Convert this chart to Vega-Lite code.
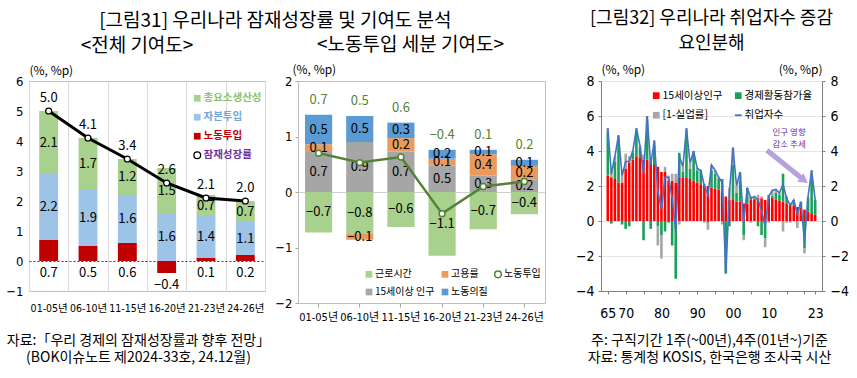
{
  "$schema": "https://vega.github.io/schema/vega-lite/v6.json",
  "background": "white",
  "padding": {"left": 5, "top": 10, "right": 5, "bottom": 5},
  "config": {
    "font": "Noto Sans CJK KR",
    "view": {"stroke": null},
    "axis": {"labelFont": "Liberation Sans Narrow, DejaVu Sans Condensed, Noto Sans CJK KR", "labelColor": "#000000", "titleFont": "Noto Sans CJK KR", "titleColor": "#000000", "titleFontWeight": "normal", "labelOverlap": false},
    "legend": {"labelFont": "Noto Sans CJK KR", "labelColor": "#000000"},
    "title": {"font": "Noto Sans CJK KR", "fontWeight": "normal", "color": "#000000", "fontSize": 19}
  },
  "datasets": {
    "p1": [
      {"period": "01-05년", "comp": "노동투입", "value": 0.7},
      {"period": "01-05년", "comp": "자본투입", "value": 2.2},
      {"period": "01-05년", "comp": "총요소생산성", "value": 2.1},
      {"period": "01-05년", "comp": "잠재성장률", "value": 5.0},
      {"period": "06-10년", "comp": "노동투입", "value": 0.5},
      {"period": "06-10년", "comp": "자본투입", "value": 1.9},
      {"period": "06-10년", "comp": "총요소생산성", "value": 1.7},
      {"period": "06-10년", "comp": "잠재성장률", "value": 4.1},
      {"period": "11-15년", "comp": "노동투입", "value": 0.6},
      {"period": "11-15년", "comp": "자본투입", "value": 1.6},
      {"period": "11-15년", "comp": "총요소생산성", "value": 1.2},
      {"period": "11-15년", "comp": "잠재성장률", "value": 3.4},
      {"period": "16-20년", "comp": "노동투입", "value": -0.4},
      {"period": "16-20년", "comp": "자본투입", "value": 1.6},
      {"period": "16-20년", "comp": "총요소생산성", "value": 1.5},
      {"period": "16-20년", "comp": "잠재성장률", "value": 2.6},
      {"period": "21-23년", "comp": "노동투입", "value": 0.1},
      {"period": "21-23년", "comp": "자본투입", "value": 1.4},
      {"period": "21-23년", "comp": "총요소생산성", "value": 0.7},
      {"period": "21-23년", "comp": "잠재성장률", "value": 2.1},
      {"period": "24-26년", "comp": "노동투입", "value": 0.2},
      {"period": "24-26년", "comp": "자본투입", "value": 1.1},
      {"period": "24-26년", "comp": "총요소생산성", "value": 0.7},
      {"period": "24-26년", "comp": "잠재성장률", "value": 2.0}
    ],
    "p2": [
      {"period": "01-05년", "comp": "근로시간", "value": -0.73},
      {"period": "01-05년", "comp": "15세이상 인구", "value": 0.72},
      {"period": "01-05년", "comp": "고용률", "value": 0.14},
      {"period": "01-05년", "comp": "노동의질", "value": 0.53},
      {"period": "01-05년", "comp": "노동투입", "value": 0.70},
      {"period": "06-10년", "comp": "근로시간", "value": -0.75},
      {"period": "06-10년", "comp": "15세이상 인구", "value": 0.90},
      {"period": "06-10년", "comp": "고용률", "value": -0.11},
      {"period": "06-10년", "comp": "노동의질", "value": 0.47},
      {"period": "06-10년", "comp": "노동투입", "value": 0.53},
      {"period": "11-15년", "comp": "근로시간", "value": -0.63},
      {"period": "11-15년", "comp": "15세이상 인구", "value": 0.73},
      {"period": "11-15년", "comp": "고용률", "value": 0.24},
      {"period": "11-15년", "comp": "노동의질", "value": 0.28},
      {"period": "11-15년", "comp": "노동투입", "value": 0.63},
      {"period": "16-20년", "comp": "근로시간", "value": -1.15},
      {"period": "16-20년", "comp": "15세이상 인구", "value": 0.48},
      {"period": "16-20년", "comp": "고용률", "value": 0.12},
      {"period": "16-20년", "comp": "노동의질", "value": 0.16},
      {"period": "16-20년", "comp": "노동투입", "value": -0.39},
      {"period": "21-23년", "comp": "근로시간", "value": -0.67},
      {"period": "21-23년", "comp": "15세이상 인구", "value": 0.30},
      {"period": "21-23년", "comp": "고용률", "value": 0.38},
      {"period": "21-23년", "comp": "노동의질", "value": 0.08},
      {"period": "21-23년", "comp": "노동투입", "value": 0.10},
      {"period": "24-26년", "comp": "근로시간", "value": -0.40},
      {"period": "24-26년", "comp": "15세이상 인구", "value": 0.23},
      {"period": "24-26년", "comp": "고용률", "value": 0.24},
      {"period": "24-26년", "comp": "노동의질", "value": 0.11},
      {"period": "24-26년", "comp": "노동투입", "value": 0.19}
    ],
    "p3": [
      {"year": 1965, "pop": 2.6, "lfp": 2.5, "unemp": 0.2, "emp": 5.3},
      {"year": 1966, "pop": 2.5, "lfp": -0.15, "unemp": 0.35, "emp": 2.7},
      {"year": 1967, "pop": 2.4, "lfp": 1.0, "unemp": 0.3, "emp": 3.7},
      {"year": 1968, "pop": 2.2, "lfp": 2.5, "unemp": 0.2, "emp": 4.9},
      {"year": 1969, "pop": 2.2, "lfp": -0.2, "unemp": 0.6, "emp": 2.6},
      {"year": 1970, "pop": 3.0, "lfp": -0.45, "unemp": 0.85, "emp": 3.4},
      {"year": 1971, "pop": 3.35, "lfp": -0.3, "unemp": 0.35, "emp": 3.4},
      {"year": 1972, "pop": 3.5, "lfp": 0.4, "unemp": 0.1, "emp": 4.0},
      {"year": 1973, "pop": 3.7, "lfp": 1.4, "unemp": 0.2, "emp": 5.3},
      {"year": 1974, "pop": 3.6, "lfp": 0.6, "unemp": 0.1, "emp": 4.3},
      {"year": 1975, "pop": 3.5, "lfp": -1.1, "unemp": 0.3, "emp": 2.7},
      {"year": 1976, "pop": 3.5, "lfp": 2.2, "unemp": 0.3, "emp": 6.0},
      {"year": 1977, "pop": 3.4, "lfp": -0.45, "unemp": 0.25, "emp": 3.2},
      {"year": 1978, "pop": 3.2, "lfp": 1.1, "unemp": 0.3, "emp": 4.6},
      {"year": 1979, "pop": 3.1, "lfp": -0.3, "unemp": -1.1, "emp": 1.7},
      {"year": 1980, "pop": 2.8, "lfp": -0.8, "unemp": -1.35, "emp": 0.65},
      {"year": 1981, "pop": 2.8, "lfp": -0.6, "unemp": 0.3, "emp": 2.5},
      {"year": 1982, "pop": 2.3, "lfp": -0.1, "unemp": 0.3, "emp": 2.5},
      {"year": 1983, "pop": 2.3, "lfp": -1.4, "unemp": 0.4, "emp": 1.3},
      {"year": 1984, "pop": 2.2, "lfp": -3.3, "unemp": 0.5, "emp": -0.6},
      {"year": 1985, "pop": 2.5, "lfp": 1.4, "unemp": -0.2, "emp": 3.7},
      {"year": 1986, "pop": 2.5, "lfp": 0.3, "unemp": 0.3, "emp": 3.1},
      {"year": 1987, "pop": 2.5, "lfp": 2.3, "unemp": 0.5, "emp": 5.3},
      {"year": 1988, "pop": 2.4, "lfp": 0.6, "unemp": 0.3, "emp": 3.3},
      {"year": 1989, "pop": 2.3, "lfp": 1.6, "unemp": 0.1, "emp": 4.0},
      {"year": 1990, "pop": 2.2, "lfp": 0.7, "unemp": 0.1, "emp": 3.0},
      {"year": 1991, "pop": 2.1, "lfp": 0.8, "unemp": 0.0, "emp": 2.9},
      {"year": 1992, "pop": 2.0, "lfp": 0.1, "unemp": -0.1, "emp": 2.0},
      {"year": 1993, "pop": 2.0, "lfp": -0.1, "unemp": -0.4, "emp": 1.5},
      {"year": 1994, "pop": 1.9, "lfp": 1.0, "unemp": 0.3, "emp": 3.2},
      {"year": 1995, "pop": 1.85, "lfp": 0.85, "unemp": 0.2, "emp": 2.9},
      {"year": 1996, "pop": 1.8, "lfp": 0.6, "unemp": 0.1, "emp": 2.5},
      {"year": 1997, "pop": 1.6, "lfp": 0.8, "unemp": -0.2, "emp": 2.2},
      {"year": 1998, "pop": 1.4, "lfp": -3.0, "unemp": 0.0, "emp": -3.0},
      {"year": 1999, "pop": 1.2, "lfp": -0.3, "unemp": 0.7, "emp": 1.6},
      {"year": 2000, "pop": 1.2, "lfp": 2.0, "unemp": 1.0, "emp": 4.2},
      {"year": 2001, "pop": 1.1, "lfp": 0.5, "unemp": 0.4, "emp": 2.0},
      {"year": 2002, "pop": 1.1, "lfp": 1.2, "unemp": 0.5, "emp": 2.8},
      {"year": 2003, "pop": 1.0, "lfp": -0.8, "unemp": -0.3, "emp": -0.1},
      {"year": 2004, "pop": 1.0, "lfp": 0.9, "unemp": 0.0, "emp": 1.9},
      {"year": 2005, "pop": 1.2, "lfp": 0.2, "unemp": -0.1, "emp": 1.3},
      {"year": 2006, "pop": 1.2, "lfp": 0.1, "unemp": 0.1, "emp": 1.4},
      {"year": 2007, "pop": 1.3, "lfp": -0.3, "unemp": 0.2, "emp": 1.2},
      {"year": 2008, "pop": 1.3, "lfp": -0.8, "unemp": 0.1, "emp": 0.6},
      {"year": 2009, "pop": 1.2, "lfp": -1.0, "unemp": -0.5, "emp": -0.3},
      {"year": 2010, "pop": 1.3, "lfp": 0.2, "unemp": -0.1, "emp": 1.4},
      {"year": 2011, "pop": 1.35, "lfp": 0.1, "unemp": 0.3, "emp": 1.75},
      {"year": 2012, "pop": 1.2, "lfp": 0.4, "unemp": 0.2, "emp": 1.8},
      {"year": 2013, "pop": 1.15, "lfp": 0.35, "unemp": 0.1, "emp": 1.6},
      {"year": 2014, "pop": 1.1, "lfp": 1.6, "unemp": -0.6, "emp": 2.1},
      {"year": 2015, "pop": 1.0, "lfp": 0.4, "unemp": -0.1, "emp": 1.3},
      {"year": 2016, "pop": 1.0, "lfp": 0.0, "unemp": -0.1, "emp": 0.9},
      {"year": 2017, "pop": 0.9, "lfp": 0.3, "unemp": 0.0, "emp": 1.2},
      {"year": 2018, "pop": 0.8, "lfp": 0.0, "unemp": -0.4, "emp": 0.4},
      {"year": 2019, "pop": 0.75, "lfp": 0.35, "unemp": 0.0, "emp": 1.1},
      {"year": 2020, "pop": 0.65, "lfp": -1.55, "unemp": -0.3, "emp": -1.2},
      {"year": 2021, "pop": 0.55, "lfp": 0.75, "unemp": 0.1, "emp": 1.4},
      {"year": 2022, "pop": 0.45, "lfp": 1.95, "unemp": 0.5, "emp": 2.9},
      {"year": 2023, "pop": 0.35, "lfp": 0.85, "unemp": 0.0, "emp": 1.2}
    ],
    "arrow": [
      {"year": 2009.5, "y": 4.04, "year2": 2019.5, "y2": 2.4}
    ],
    "head": [
      {"year": 2019.9, "y": 2.33}
    ],
    "note": [
      {"year": 2015.7, "y": 5.07, "t": "인구 영향"},
      {"year": 2015.7, "y": 4.4, "t": "감소 추세"}
    ]
  },
  "spacing": 29,
  "resolve": {"scale": {"color": "independent", "x": "independent", "y": "independent"}, "legend": {"color": "independent"}},
  "hconcat": [
    {
      "title": {"text": "[그림31] 우리나라 잠재성장률 및 기여도 분석", "offset": 5, "anchor": "middle", "dx": 0},
      "spacing": 3,
      "resolve": {"scale": {"color": "independent", "x": "independent", "y": "independent"}, "legend": {"color": "independent"}},
      "hconcat": [
        {
          "width": 236,
          "height": 210,
          "title": {"text": "<전체 기여도>", "offset": 8, "anchor": "middle", "dx": -10},
          "view": {"stroke": "#bfbfbf"},
          "data": {"name": "p1"},
          "encoding": {
            "x": {
              "field": "period", "type": "nominal", "sort": null,
              "scale": {"paddingInner": 0, "paddingOuter": 0},
              "axis": {
                "labelAngle": 0, "labelFontSize": 10.5, "labelPadding": 12, "ticks": false, "domain": false,
                "grid": true, "gridColor": "#d9d9d9", "tickBand": "extent",
                "title": ["자료:「우리 경제의 잠재성장률과 향후 전망」", "(BOK이슈노트 제2024-33호, 24.12월)"],
                "titleFontSize": 14, "titleLineHeight": 17, "titleX": 109, "titleY": 42, "titleAlign": "center", "titleBaseline": "top"
              }
            }
          },
          "layer": [
            {
              "transform": [
                {"filter": "datum.comp != '잠재성장률'"},
                {"calculate": "indexof(['노동투입','자본투입','총요소생산성'], datum.comp)", "as": "ord"}
              ],
              "mark": {"type": "bar", "width": {"band": 0.48}},
              "encoding": {
                "y": {
                  "field": "value", "type": "quantitative", "stack": "zero",
                  "scale": {"domain": [-1, 6], "nice": false},
                  "axis": {
                    "values": [-1, 0, 1, 2, 3, 4, 5, 6], "format": "d", "labelOverlap": false, "labelFontSize": 13, "labelPadding": 3,
                    "grid": true,
                    "gridColor": {"condition": {"test": "datum.value === 0", "value": "#404040"}, "value": "transparent"},
                    "gridDash": [2, 2], "domain": false, "ticks": true, "tickSize": 3, "tickColor": "transparent",
                    "title": "(%, %p)", "titleAngle": 0, "titleAlign": "left", "titleBaseline": "bottom", "titleX": 0, "titleY": -4, "titleFontSize": 12
                  }
                },
                "color": {
                  "field": "comp", "type": "nominal",
                  "scale": {"domain": ["총요소생산성", "자본투입", "노동투입", "잠재성장률"], "range": ["#a9d18e", "#9dc3e6", "#c00000", "#ffffff"]},
                  "legend": {
                    "title": null, "orient": "none", "legendX": 163, "legendY": 12, "padding": 0, "rowPadding": 6,
                    "labelFontSize": 10.5, "labelFontWeight": "bold", "symbolSize": 45, "labelOffset": 1,
                    "symbolType": {"expr": "datum.value === '잠재성장률' ? 'circle' : 'square'"},
                    "symbolStrokeWidth": 1.3,
                    "symbolStrokeColor": {"expr": "datum.value === '잠재성장률' ? '#000000' : 'transparent'"},
                    "labelColor": {"expr": "datum.value === '총요소생산성' ? '#8cc26c' : datum.value === '자본투입' ? '#6fa8dc' : datum.value === '노동투입' ? '#c00000' : '#7030a0'"}
                  }
                },
                "order": {"field": "ord", "type": "quantitative"}
              }
            },
            {
              "transform": [
                {"filter": "datum.comp != '잠재성장률'"},
                {"calculate": "indexof(['노동투입','자본투입','총요소생산성'], datum.comp)", "as": "ord"},
                {"stack": "value", "groupby": ["period"], "sort": [{"field": "ord", "order": "ascending"}], "as": ["v0", "v1"]},
                {"filter": "datum.comp != '노동투입'"},
                {"calculate": "(datum.v0 + datum.v1) / 2", "as": "mid"}
              ],
              "mark": {"type": "text", "fontSize": 13, "font": "Liberation Sans Narrow, Noto Sans CJK KR", "baseline": "middle", "color": "#000000"},
              "encoding": {
                "y": {"field": "mid", "type": "quantitative", "scale": {"domain": [-1, 6], "nice": false}, "axis": {"values": [-1, 0, 1, 2, 3, 4, 5, 6], "labelOverlap": false, "title": "(%, %p)"}},
                "text": {"field": "value", "type": "quantitative", "format": ".1f"}
              }
            },
            {
              "transform": [
                {"filter": "datum.comp == '노동투입'"},
                {"calculate": "min(datum.value, 0)", "as": "lp"}
              ],
              "mark": {"type": "text", "fontSize": 13, "font": "Liberation Sans Narrow, Noto Sans CJK KR", "baseline": "middle", "dy": 12, "color": "#000000"},
              "encoding": {
                "y": {"field": "lp", "type": "quantitative", "scale": {"domain": [-1, 6], "nice": false}, "axis": {"values": [-1, 0, 1, 2, 3, 4, 5, 6], "labelOverlap": false, "title": "(%, %p)"}},
                "text": {"field": "value", "type": "quantitative", "format": ".1f"}
              }
            },
            {
              "transform": [{"filter": "datum.comp == '잠재성장률'"}],
              "mark": {"type": "line", "color": "#000000", "strokeWidth": 3},
              "encoding": {"y": {"field": "value", "type": "quantitative", "scale": {"domain": [-1, 6], "nice": false}, "axis": {"values": [-1, 0, 1, 2, 3, 4, 5, 6], "labelOverlap": false, "title": "(%, %p)"}}}
            },
            {
              "transform": [{"filter": "datum.comp == '잠재성장률'"}],
              "mark": {"type": "point", "filled": true, "fill": "#ffffff", "stroke": "#000000", "strokeWidth": 1.3, "size": 35, "opacity": 1},
              "encoding": {"y": {"field": "value", "type": "quantitative", "scale": {"domain": [-1, 6], "nice": false}, "axis": {"values": [-1, 0, 1, 2, 3, 4, 5, 6], "labelOverlap": false, "title": "(%, %p)"}}}
            },
            {
              "transform": [{"filter": "datum.comp == '잠재성장률'"}],
              "mark": {"type": "text", "fontSize": 13, "font": "Liberation Sans Narrow, Noto Sans CJK KR", "baseline": "middle", "dy": -13, "color": "#000000"},
              "encoding": {
                "y": {"field": "value", "type": "quantitative", "scale": {"domain": [-1, 6], "nice": false}, "axis": {"values": [-1, 0, 1, 2, 3, 4, 5, 6], "labelOverlap": false, "title": "(%, %p)"}},
                "text": {"field": "value", "type": "quantitative", "format": ".1f"}
              }
            }
          ]
        },
        {
          "width": 247,
          "height": 222,
          "title": {"text": "<노동투입 세분 기여도>", "offset": 8, "anchor": "middle", "dx": -11},
          "view": {"stroke": "#bfbfbf"},
          "data": {"name": "p2"},
          "encoding": {
            "x": {
              "field": "period", "type": "nominal", "sort": null,
              "scale": {"paddingInner": 0, "paddingOuter": 0},
              "axis": {"labelAngle": 0, "labelFontSize": 11, "labelPadding": 4, "ticks": true, "tickSize": 4, "tickColor": "#a6a6a6", "domain": false, "grid": false, "title": null}
            }
          },
          "layer": [
            {
              "transform": [
                {"filter": "datum.comp != '노동투입'"},
                {"calculate": "indexof(['근로시간','15세이상 인구','고용률','노동의질'], datum.comp)", "as": "ord"}
              ],
              "mark": {"type": "bar", "width": {"band": 0.66}},
              "encoding": {
                "y": {
                  "field": "value", "type": "quantitative", "stack": "zero",
                  "scale": {"domain": [-2, 2], "nice": false},
                  "axis": {
                    "values": [-2, -1, 0, 1, 2], "format": "d", "labelOverlap": false, "grid": true,
                    "gridColor": {"condition": {"test": "datum.value === 0", "value": "#d0d0d0"}, "value": "transparent"},
                    "domain": false, "ticks": true, "tickSize": 3, "tickColor": "#a6a6a6", "labelPadding": 3, "labelFontSize": 13,
                    "title": "(%, %p)", "titleAngle": 0, "titleAlign": "left", "titleBaseline": "bottom", "titleX": -6, "titleY": -5, "titleFontSize": 12
                  }
                },
                "color": {
                  "field": "comp", "type": "nominal",
                  "scale": {"domain": ["근로시간", "고용률", "노동투입", "15세이상 인구", "노동의질"], "range": ["#a9d18e", "#eb9a5e", "#ffffff", "#a6a6a6", "#5b9bd5"]},
                  "legend": {
                    "title": null, "orient": "bottom-right", "offset": 4, "padding": 0, "columns": 3, "direction": "horizontal",
                    "rowPadding": 4, "columnPadding": 3, "labelFontSize": 10, "symbolSize": 45, "labelOffset": 1,
                    "symbolType": {"expr": "datum.value === '노동투입' ? 'circle' : 'square'"},
                    "symbolStrokeWidth": 1.5,
                    "symbolStrokeColor": {"expr": "datum.value === '노동투입' ? '#548235' : 'transparent'"}
                  }
                },
                "order": {"field": "ord", "type": "quantitative"}
              }
            },
            {
              "transform": [
                {"filter": "datum.comp != '노동투입'"},
                {"calculate": "indexof(['근로시간','15세이상 인구','고용률','노동의질'], datum.comp)", "as": "ord"},
                {"stack": "value", "groupby": ["period"], "sort": [{"field": "ord", "order": "ascending"}], "as": ["v0", "v1"]},
                {"calculate": "(datum.v0 + datum.v1) / 2", "as": "mid"}
              ],
              "mark": {"type": "text", "fontSize": 13, "font": "Liberation Sans Narrow, Noto Sans CJK KR", "baseline": "middle", "color": "#000000"},
              "encoding": {
                "y": {"field": "mid", "type": "quantitative", "scale": {"domain": [-2, 2], "nice": false}},
                "text": {"field": "value", "type": "quantitative", "format": ".1f"}
              }
            },
            {
              "transform": [{"filter": "datum.comp == '노동투입'"}],
              "mark": {"type": "line", "color": "#548235", "strokeWidth": 2.5},
              "encoding": {"y": {"field": "value", "type": "quantitative", "scale": {"domain": [-2, 2], "nice": false}}}
            },
            {
              "transform": [{"filter": "datum.comp == '노동투입'"}],
              "mark": {"type": "point", "filled": true, "fill": "#ffffff", "stroke": "#548235", "strokeWidth": 1.5, "size": 35, "opacity": 1},
              "encoding": {"y": {"field": "value", "type": "quantitative", "scale": {"domain": [-2, 2], "nice": false}}}
            },
            {
              "transform": [
                {"calculate": "datum.comp != '노동투입' ? max(datum.value, 0) : 0", "as": "pos"},
                {"joinaggregate": [{"op": "sum", "field": "pos", "as": "top"}], "groupby": ["period"]},
                {"filter": "datum.comp == '노동투입'"}
              ],
              "mark": {"type": "text", "fontSize": 13, "font": "Liberation Sans Narrow, Noto Sans CJK KR", "baseline": "middle", "dy": -15, "color": "#548235"},
              "encoding": {
                "y": {"field": "top", "type": "quantitative", "scale": {"domain": [-2, 2], "nice": false}},
                "text": {"field": "value", "type": "quantitative", "format": ".1f"}
              }
            }
          ]
        }
      ]
    },
    {
      "width": 221,
      "height": 210,
      "title": {"text": ["[그림32] 우리나라 취업자수 증감", "요인분해"], "fontSize": 18, "offset": 10, "anchor": "middle", "lineHeight": 25},
      "resolve": {"axis": {"y": "independent"}},
      "encoding": {
        "x": {
          "field": "year", "type": "quantitative",
          "scale": {"domain": [1964.5, 2023.5], "nice": false, "zero": false},
          "axis": {
            "values": [1965, 1970, 1975, 1980, 1985, 1990, 1995, 2000, 2005, 2010, 2015, 2020, 2023],
            "labelExpr": "indexof([1965,1970,1980,1990,2000,2010,2023], datum.value) >= 0 ? slice(toString(datum.value), 2) : ''",
            "labelFontSize": 14, "labelPadding": 12, "labelOverlap": false, "labelFlush": false,
            "ticks": true, "tickSize": 3, "tickColor": "#808080", "domain": true, "domainColor": "#808080", "grid": false,
            "title": ["주: 구직기간 1주(~00년),4주(01년~)기준", "자료: 통계청 KOSIS, 한국은행 조사국 시산"],
            "titleFontSize": 14, "titleLineHeight": 17, "titleX": 108, "titleY": 42, "titleAlign": "center", "titleBaseline": "top"
          }
        }
      },
      "layer": [
        {
          "data": {"name": "p3"},
          "transform": [
            {"fold": ["pop", "lfp", "unemp"], "as": ["key", "value"]},
            {"calculate": "datum.key == 'pop' ? '15세이상인구' : datum.key == 'lfp' ? '경제활동참가율' : '[1-실업률]'", "as": "series"},
            {"calculate": "indexof(['pop','lfp','unemp'], datum.key)", "as": "ord"}
          ],
          "mark": {"type": "bar", "width": 2.6},
          "encoding": {
            "y": {
              "field": "value", "type": "quantitative", "stack": "zero",
              "scale": {"domain": [-4, 8], "nice": false},
              "axis": {
                "values": [-4, -2, 0, 2, 4, 6, 8], "labelOverlap": false, "grid": true, "gridColor": "#e3e3e3", "domain": true, "domainColor": "#808080",
                "ticks": true, "tickSize": 3, "tickColor": "#808080", "labelPadding": 4, "labelFontSize": 14,
                "title": "(%, %p)", "titleAngle": 0, "titleAlign": "left", "titleBaseline": "bottom", "titleX": 0, "titleY": -5, "titleFontSize": 12
              }
            },
            "color": {
              "field": "series", "type": "nominal",
              "scale": {"domain": ["15세이상인구", "경제활동참가율", "[1-실업률]", "취업자수"], "range": ["#ff0000", "#1aa05a", "#a6a6a6", "#ffffff"]},
              "legend": {
                "title": null, "orient": "top-right", "offset": 9, "padding": 0, "columns": 2, "direction": "horizontal",
                "rowPadding": 5, "columnPadding": 8, "labelFontSize": 10.5, "symbolSize": 45, "labelOffset": 1,
                "symbolType": {"expr": "datum.value === '취업자수' ? 'stroke' : 'square'"},
                "symbolStrokeWidth": 1.8,
                "symbolStrokeColor": {"expr": "datum.value === '취업자수' ? '#4472c4' : 'transparent'"}
              }
            },
            "order": {"field": "ord", "type": "quantitative"}
          }
        },
        {
          "data": {"name": "p3"},
          "mark": {"type": "line", "color": "#4472c4", "strokeWidth": 1.6},
          "encoding": {
            "y": {
              "field": "emp", "type": "quantitative",
              "scale": {"domain": [-4, 8], "nice": false},
              "axis": {
                "orient": "right", "values": [-4, -2, 0, 2, 4, 6, 8], "labelOverlap": false, "grid": false, "domain": true, "domainColor": "#808080",
                "ticks": true, "tickSize": 3, "tickColor": "#808080", "labelPadding": 5, "labelFontSize": 14,
                "title": "(%, %p)", "titleAngle": 0, "titleAlign": "right", "titleBaseline": "bottom", "titleX": 0, "titleY": -5, "titleFontSize": 12
              }
            }
          }
        },
        {
          "data": {"name": "arrow"},
          "mark": {"type": "rule", "color": "#b4a2dc", "strokeWidth": 5},
          "encoding": {
            "y": {"field": "y", "type": "quantitative", "axis": null},
            "x2": {"field": "year2"},
            "y2": {"field": "y2"}
          }
        },
        {
          "data": {"name": "head"},
          "mark": {"type": "point", "shape": "triangle-right", "angle": 36, "filled": true, "color": "#b4a2dc", "size": 110, "opacity": 1},
          "encoding": {
            "y": {"field": "y", "type": "quantitative", "axis": null}
          }
        },
        {
          "data": {"name": "note"},
          "mark": {"type": "text", "fontSize": 8.5, "color": "#7030a0", "align": "center", "baseline": "middle"},
          "encoding": {
            "y": {"field": "y", "type": "quantitative", "axis": null},
            "text": {"field": "t"}
          }
        }
      ]
    }
  ]
}
